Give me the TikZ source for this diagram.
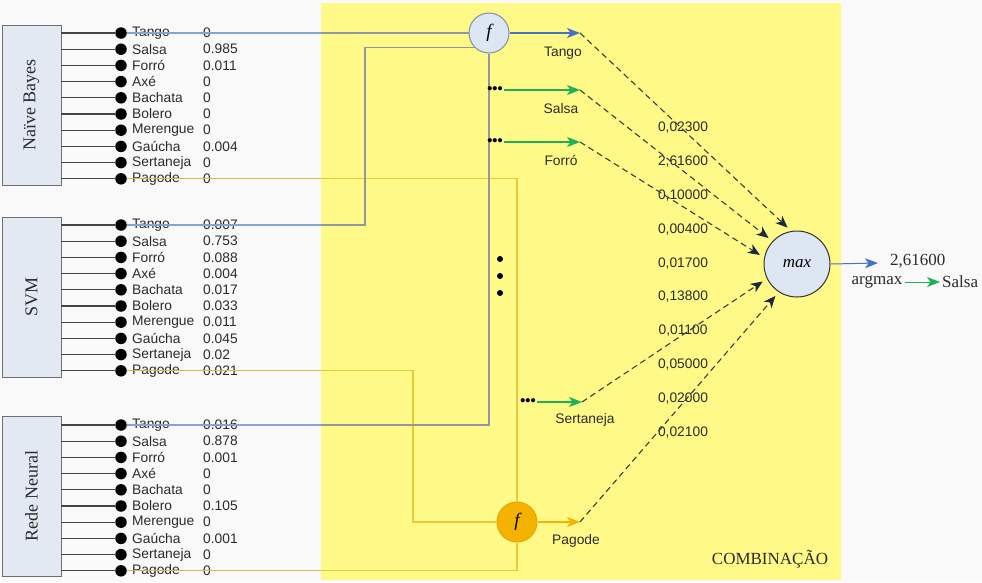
\documentclass[tikz,border=0pt]{standalone}
\usepackage{fontspec}
\setmainfont{Liberation Serif}
\setsansfont{Liberation Sans}
\usetikzlibrary{arrows.meta}
\definecolor{bgc}{HTML}{F9F9F9}
\definecolor{yel}{HTML}{FFFA88}
\definecolor{boxfill}{HTML}{E3E9F3}
\definecolor{boxdraw}{HTML}{6E6E6E}
\definecolor{nodefill}{HTML}{DDE6F3}
\definecolor{nodedraw}{HTML}{7F8FA6}
\definecolor{txt}{HTML}{2B2B2B}
\definecolor{bluearr}{HTML}{4472C4}
\definecolor{bluelt}{HTML}{86A3D4}
\definecolor{grayin}{HTML}{8E97A3}
\definecolor{goldout}{HTML}{D4BC4E}
\definecolor{goldin}{HTML}{E9C93A}
\definecolor{greenarr}{HTML}{1DB15A}
\definecolor{orangef}{HTML}{F5B301}
\definecolor{orangedraw}{HTML}{E8A400}
\definecolor{dashc}{HTML}{3C3C3C}
\definecolor{tipc}{HTML}{1C2740}
\definecolor{stubc}{HTML}{444444}

\newcommand\genrelist{Tango,Salsa,Forró,Axé,Bachata,Bolero,Merengue,Gaúcha,Sertaneja,Pagode}
\newcommand\clsrows[3]{%
  \foreach \g [count=\i] in \genrelist {
    \node[dotn] (#1\i) at (121,{#2+16.2*(\i-1)}) {};
    \draw[stub] (#1\i -| #1box.south) -- (#1\i.west);
    \node[lbl] (#1l\i) at (132,{#2+16.2*(\i-1)}) {\g};
  }
  \foreach \v [count=\i] in {#3} {
    \node[lbl] (#1v\i) at (203,{#2+16.2*(\i-1)}) {\v};
  }
}
\newcommand\bluepaths{%
  \draw (nb1.east) -- (fT.west);
  \draw (svm1.east) -| (svmup |- fT.225) -- (fT.225);
  \draw (rn1.east) -| (fT.south);
}
\newcommand\goldpaths{%
  \draw (nb10.east) -| (fP.north);
  \draw (svm10.east) -| (svmdn |- fP.west) -- (fP.west);
  \draw (rn10.east) -| (fP.south);
}

\begin{document}
\begin{tikzpicture}[x=1pt,y=-1pt,
  clsbox/.style={draw=boxdraw, fill=boxfill, line width=0.9pt, rotate=90,
    minimum width=160pt, minimum height=59pt, inner sep=0pt,
    font=\rmfamily\fontsize{18}{18}\selectfont, text=txt},
  dotn/.style={circle, fill=black, minimum size=11.5pt, inner sep=0pt},
  stub/.style={draw=stubc, line width=1.1pt},
  lbl/.style={anchor=west, inner sep=0pt, text=txt,
    font=\sffamily\fontsize{13.8}{16}\selectfont},
  lbl2/.style={inner sep=0pt, text=txt,
    font=\sffamily\fontsize{13.8}{16}\selectfont},
  fnode/.style={circle, draw=nodedraw, fill=nodefill, line width=1pt,
    minimum size=40pt, inner sep=0pt,
    font=\rmfamily\itshape\fontsize{19}{19}\selectfont},
  fnodeo/.style={fnode, draw=orangedraw, fill=orangef},
  maxnode/.style={circle, draw=black!80, fill=nodefill, line width=1pt,
    minimum size=66pt, inner sep=0pt,
    font=\rmfamily\itshape\fontsize{17}{17}\selectfont},
  hdots/.style={inner sep=1.5pt, font=\sffamily\bfseries\fontsize{14.5}{14}\selectfont},
  tipstyle/.style={-{Stealth[length=13pt,width=10pt,inset=3.5pt]}},
  barr/.style={draw=bluearr, line width=1.2pt, tipstyle},
  garr/.style={draw=greenarr, line width=1.2pt, tipstyle},
  oarr/.style={draw=orangef, line width=1.2pt, tipstyle},
  dasharr/.style={draw=dashc, line width=1.1pt, dash pattern=on 6pt off 4pt,
    -{Stealth[length=12pt,width=10pt,inset=3.5pt,color=tipc]}, shorten >=5pt},
  vlbl/.style={inner sep=0pt, text=txt, font=\sffamily\fontsize{13.8}{16}\selectfont},
  rtext/.style={inner sep=2pt, text=txt, font=\rmfamily\fontsize{17}{17}\selectfont}
]
\useasboundingbox (0,0) rectangle (982,582);
\fill[bgc] (0,0) rectangle (982,582);
\fill[yel] (321,3) rectangle (841,580);

% classifier boxes
\node[clsbox] (nbbox) at (31.5,105) {Naïve Bayes};
\node[clsbox] (svmbox) at (31.5,297) {SVM};
\node[clsbox] (rnbox) at (31.5,496) {Rede Neural};

\clsrows{nb}{33}{0,0.985,0.011,0,0,0,0,0.004,0,0}
\clsrows{svm}{225}{0.007,0.753,0.088,0.004,0.017,0.033,0.011,0.045,0.02,0.021}
\clsrows{rn}{425}{0.016,0.878,0.001,0,0,0.105,0,0.001,0,0}

% combination nodes
\node[fnode] (fT) at (489,33) {f};
\node[fnodeo] (fP) at (517,522) {f};
\node[maxnode] (mx) at (797,264) {max};
\coordinate (svmup) at (365,0);
\coordinate (svmdn) at (413,0);

% input lines
\begin{scope}[color=goldout, line width=1.2pt] \goldpaths \end{scope}
\begin{scope}
  \clip (321,3) rectangle (841,580);
  \begin{scope}[color=goldin, line width=1.2pt] \goldpaths \end{scope}
\end{scope}
\begin{scope}[color=bluelt, line width=1.2pt] \bluepaths \end{scope}
\begin{scope}
  \clip (321,3) rectangle (841,580);
  \begin{scope}[color=grayin, line width=1.2pt] \bluepaths \end{scope}
\end{scope}

% outputs of f
\coordinate (tT) at (580,33);
\draw[barr] (fT.east) -- (tT);
\node[lbl2] (lT) at (563,53) {Tango};

\node[hdots] (dS) at (495,90) {•••};
\coordinate (tS) at (580,90);
\draw[garr] (dS.east) -- (tS);
\node[lbl2] (lS) at (561,109) {Salsa};

\node[hdots] (dF) at (495,142) {•••};
\coordinate (tF) at (580,142);
\draw[garr] (dF.east) -- (tF);
\node[lbl2] (lF) at (561,160) {Forró};

\fill[black] (500,259) circle (3pt) (500,276) circle (3pt) (500,293) circle (3pt);

\node[hdots] (dSe) at (528,402) {•••};
\coordinate (tSe) at (582,402);
\draw[garr] (dSe.east) -- (tSe);
\node[lbl2] (lSe) at (585,420) {Sertaneja};

\coordinate (tP) at (580,522);
\draw[oarr] (fP.east) -- (tP);
\node[lbl2] (lP) at (576,541) {Pagode};

% sums
\foreach \v [count=\i] in {{0,02300},{2,61600},{0,10000},{0,00400},{0,01700},{0,13800},{0,01100},{0,05000},{0,02000},{0,02100}} {
  \node[vlbl] (s\i) at (683,{128+33.8*(\i-1)}) {\v};
}

% dashed arrows to max
\draw[dasharr] (tT) -- (mx.100);
\draw[dasharr] (tS) -- (mx.137);
\draw[dasharr] (tF) -- (mx.169);
\draw[dasharr] (tSe) -- (mx.206);
\draw[dasharr] (tP) -- (mx.237);

% result
\coordinate (mo) at (878,263);
\draw[barr, line width=1pt] (mx.east) -- (mo);
\node[rtext, anchor=west] (mv) at (888,261) {2,61600};
\node[rtext] (am) at (877,282) {argmax};
\node[rtext, anchor=west] (sl) at (940,282) {Salsa};
\draw[garr, line width=1pt] (am.east) -- (sl.west);

\node[rtext] (comb) at (770,559) {COMBINAÇÃO};
\end{tikzpicture}
\end{document}
